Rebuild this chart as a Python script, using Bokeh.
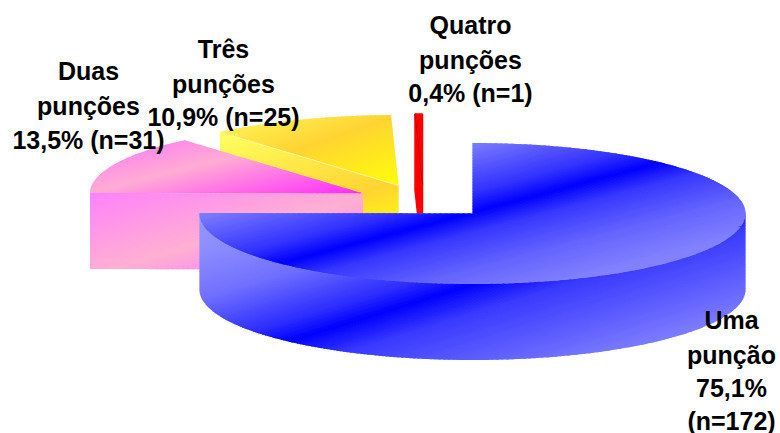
import numpy as np
from bokeh.core.properties import value
from bokeh.embed import file_html
from bokeh.models import Range1d
from bokeh.plotting import figure
from bokeh.resources import INLINE

# Number of patients per number of punctures
categories = ["Uma punção", "Duas punções", "Três punções", "Quatro punções"]
counts = [172, 31, 25, 1]

label_lines = [
    ["Uma", "punção", "75,1%", "(n=172)"],
    ["Duas", "punções", "13,5% (n=31)"],
    ["Três", "punções", "10,9% (n=25)"],
    ["Quatro", "punções", "0,4% (n=1)"],
]

# Projected pie geometry, in page pixels
RX, RY, DEPTH = 273.0, 70.5, 76.0
centres = [(472, 213), (362.5, 193), (398, 185), (422, 184)]
label_x = [731, 88, 223, 470]
label_y = [[319, 354, 387, 420], [70, 105, 139], [48, 83, 116], [24, 59, 92]]

# Shading of each face: reference point and slope of the iso-colour line,
# then (offset below that line, rgb) stops
BLUE_TOP = ((460, 215), -0.265, [(-160, (150, 150, 255)), (-70, (125, 125, 255)), (-20, (50, 50, 255)), (0, (0, 0, 255)),
                                 (20, (55, 55, 255)), (57, (100, 100, 255)), (95, (130, 130, 255)), (200, (130, 130, 255))])
BLUE_WALL = ((290, 340), -0.31, [(-160, (155, 155, 255)), (-115, (140, 140, 255)), (-70, (112, 112, 255)), (-20, (45, 45, 255)),
                                 (0, (0, 0, 255)), (30, (58, 58, 255)), (125, (132, 132, 255)), (250, (132, 132, 255))])
PINK_TOP = ((118, 185), -0.25, [(-40, (255, 128, 240)), (0, (255, 172, 212)), (70, (255, 40, 255))])
PINK_FACE = ((125, 265), -0.286, [(-90, (255, 125, 255)), (0, (255, 176, 210)), (30, (255, 145, 235))])
YELLOW_TOP = ((310, 145), -0.35, [(-50, (255, 240, 85)), (0, (255, 212, 50)), (72, (255, 255, 8))])
YELLOW_FACE = ((360, 193), -0.30, [(-95, (255, 252, 92)), (0, (255, 212, 50)), (40, (255, 246, 18))])

p = figure(
    width=780, height=433, output_backend="svg", toolbar_location=None,
    x_range=Range1d(0, 780), y_range=Range1d(433, 0),
    min_border=0, outline_line_color=None, background_fill_color="white",
)
p.axis.visible = False
p.grid.visible = False

# Slice start and end angles, clockwise from twelve o'clock
shares = np.array(counts, dtype=float) / sum(counts)
edges = np.concatenate([[0.0], np.cumsum(shares)]) * 2 * np.pi


def rim(centre, a0, a1, n=160, drop=0.0):
    a = np.linspace(a0, a1, n)
    return centre[0] + RX * np.sin(a), centre[1] - RY * np.cos(a) + drop


def clip(xs, ys, fn):
    """Keep the part of a convex polygon where fn(x, y) >= 0."""
    ox, oy = [], []
    n = len(xs)
    for i in range(n):
        x0, y0, x1, y1 = xs[i], ys[i], xs[(i + 1) % n], ys[(i + 1) % n]
        f0, f1 = fn(x0, y0), fn(x1, y1)
        if f0 >= 0:
            ox.append(x0)
            oy.append(y0)
        if (f0 >= 0) != (f1 >= 0):
            t = f0 / (f0 - f1)
            ox.append(x0 + t * (x1 - x0))
            oy.append(y0 + t * (y1 - y0))
    return ox, oy


def shaded(xs, ys, shade, step=1.5):
    """Fill a convex polygon with a linear colour ramp built from slightly overlapping bands."""
    (x_ref, y_ref), slope, stops = shade
    xs, ys = np.asarray(xs, float), np.asarray(ys, float)
    offs = ys - y_ref - slope * (xs - x_ref)
    pos = [s[0] for s in stops]
    out_x, out_y, colours = [], [], []
    start = np.floor(offs.min() / step) * step
    for d in np.arange(start, offs.max() + step, step):
        lo = lambda x, y, d=d: (y - y_ref - slope * (x - x_ref)) - d
        hi = lambda x, y, d=d: (d + step + 0.9) - (y - y_ref - slope * (x - x_ref))
        cx, cy = clip(*clip(list(xs), list(ys), lo), hi)
        if len(cx) < 3:
            continue
        mid = d + step / 2
        rgb = [int(round(np.interp(mid, pos, [s[1][k] for s in stops]))) for k in range(3)]
        out_x.append(cx)
        out_y.append(cy)
        colours.append("#%02x%02x%02x" % tuple(rgb))
    p.patches(out_x, out_y, fill_color=colours, line_color=None)


def wedge(c, a0, a1):
    x, y = rim(c, a0, a1)
    return np.r_[c[0], x], np.r_[c[1], y]


def cut_face(c, angle):
    x, y = rim(c, angle, angle, n=1)
    return [c[0], x[0], x[0], c[0]], [c[1], y[0], y[0] + DEPTH, c[1] + DEPTH]


# Painted back to front: yellow, red, pink, then the large blue slice
c = centres[2]
shaded(*wedge(c, edges[2], edges[3]), YELLOW_TOP)
fx, fy = cut_face(c, edges[2])
shaded(fx, fy, YELLOW_FACE)
p.line(fx[:2], fy[:2], line_color="#fff7b0", line_width=0.8)

# The thin red slice keeps a hairline outline so that it stays visible
c = centres[3]
x3, y3 = wedge(c, edges[3], edges[4])
p.patch(x3, y3, fill_color="#ff0000", line_color="#ff0000", line_width=1.5)
fx, fy = cut_face(c, edges[3])
p.patch(fx, fy, fill_color="#ff0000", line_color="#ff0000", line_width=1.5)
p.line(fx[:2], fy[:2], line_color="#b00000", line_width=0.7)

c = centres[1]
shaded(*wedge(c, edges[1], edges[2]), PINK_TOP)
fx, fy = cut_face(c, edges[1])
shaded(fx, fy, PINK_FACE)

# The blue wall is filled down from the rim's widest line; the top surface then
# covers everything above its front edge.  The top is split into convex wedges.
c = centres[0]
bx, by = rim(c, np.pi / 2, 3 * np.pi / 2, drop=DEPTH)
shaded(np.r_[c[0] + RX, bx, c[0] - RX], np.r_[c[1], by, c[1]], BLUE_WALL)
mid_angle = (edges[0] + edges[1]) / 2
shaded(*wedge(c, edges[0], mid_angle + 0.02), BLUE_TOP)
shaded(*wedge(c, mid_angle - 0.02, edges[1]), BLUE_TOP)

# Slice labels, one text per line
text_x, text_y, text = [], [], []
for xc, ys_line, lines in zip(label_x, label_y, label_lines):
    for y_line, line in zip(ys_line, lines):
        text_x.append(xc)
        text_y.append(y_line)
        text.append(line)
p.text(text_x, text_y, text=text, text_align="center", text_baseline="middle",
       text_color="black", text_font=value("Liberation Sans"),
       text_font_style="bold", text_font_size="25px")

open("out.html", "w").write(file_html(p, INLINE))
